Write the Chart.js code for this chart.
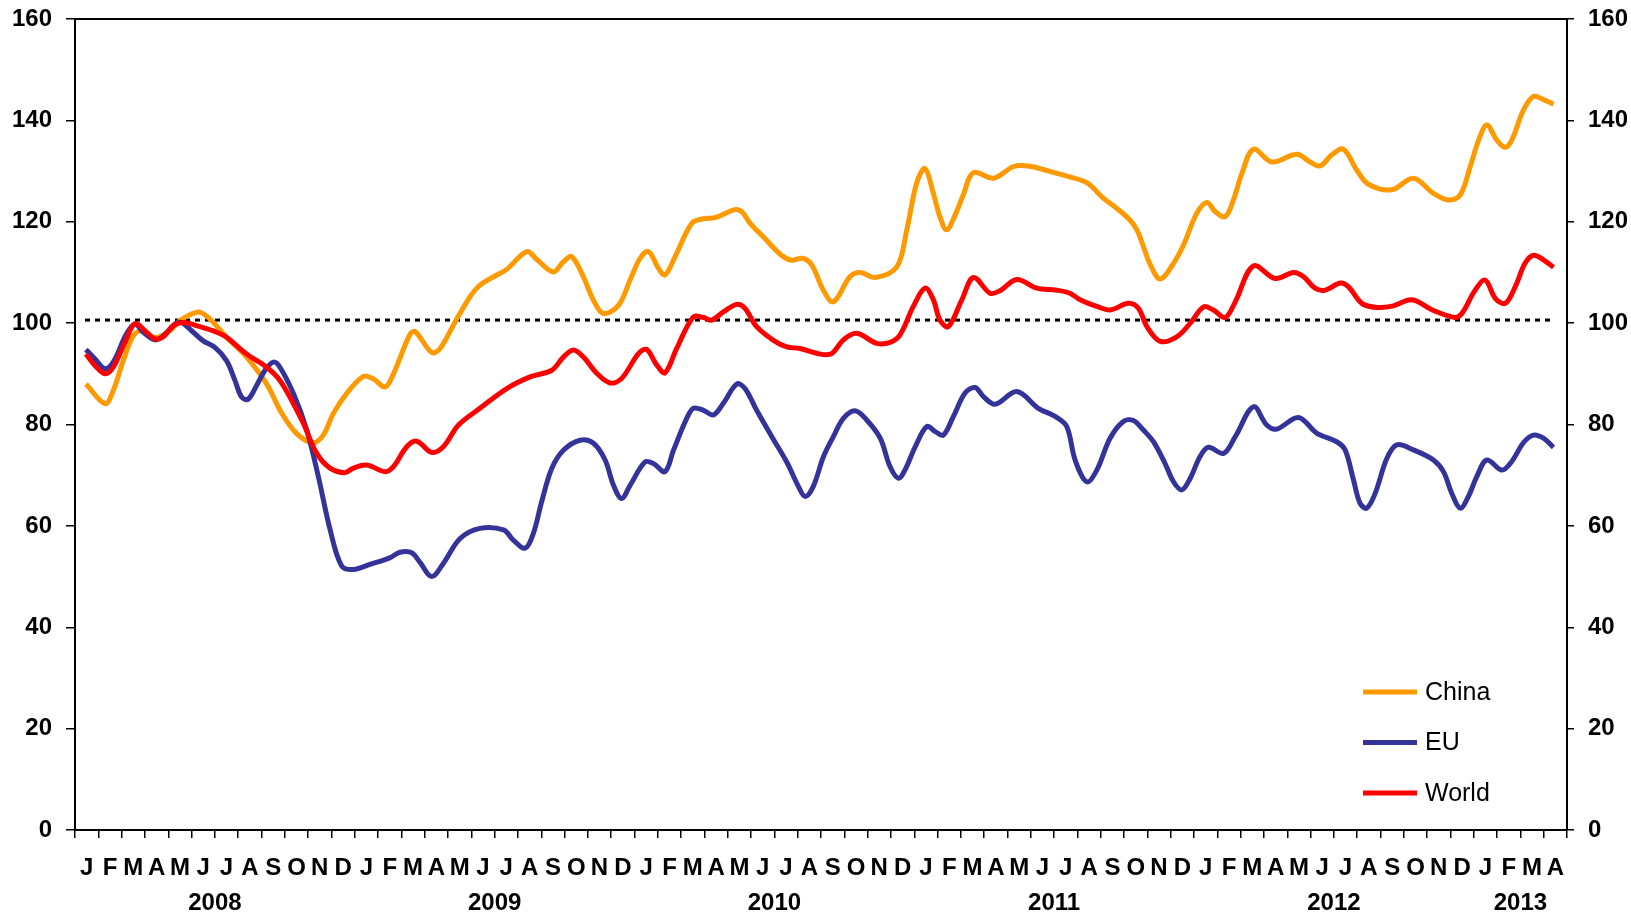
<!DOCTYPE html>
<html>
<head>
<meta charset="utf-8">
<script src="https://cdn.jsdelivr.net/npm/chart.js@4.4.1/dist/chart.umd.min.js"></script>
<style>
  html, body { margin: 0; padding: 0; background: #fff; }
  canvas { display: block; }
</style>
</head>
<body>
<canvas id="chart" width="1631" height="913"></canvas>
<script>
// time is in months since the start of Jan 2008
const monthLetters = ['J', 'F', 'M', 'A', 'M', 'J', 'J', 'A', 'S', 'O', 'N', 'D'];
const years = ['2008', '2009', '2010', '2011', '2012', '2013'];
const monthsPerYear = [12, 12, 12, 12, 12, 4];
const yTicks = [0, 20, 40, 60, 80, 100, 120, 140, 160];

const chinaT = [0.47, 1.29, 1.64, 2.07, 2.5, 2.86, 3.36, 4.07, 4.5, 5.29, 5.79, 6.5, 7.36, 8.22, 8.87, 9.51,
  10.2, 10.65, 11.08, 11.65, 12.37, 12.8, 13.3, 13.66, 14.37, 14.6, 15.3, 15.66, 16.23, 16.94, 17.37, 18.09,
  18.52, 19.38, 19.8, 20.52, 20.95, 21.31, 21.81, 22.24, 22.67, 23.31, 23.81, 24.24, 24.6, 25.03, 25.31, 25.74,
  26.46, 26.96, 27.46, 28.31, 28.6, 28.96, 29.53, 30.3, 30.75, 31.2, 31.6, 32.1, 32.53, 33.25, 33.68, 34.32,
  35.25, 35.68, 36.1, 36.46, 36.82, 37.1, 37.39, 37.75, 38.1, 38.54, 39.4, 40.26, 40.9, 41.7, 42.55, 43.4,
  44.12, 44.7, 45.26, 45.55, 45.83, 46.12, 46.55, 47.12, 47.55, 48.12, 48.55, 48.91, 49.34, 49.69, 50.05, 50.55,
  51.34, 52.41, 52.98, 53.41, 53.91, 54.41, 54.98, 55.48, 56.48, 57.41, 58.27, 58.92, 59.42, 59.85, 60.21, 60.56,
  60.99, 61.35, 61.63, 62.13, 62.56, 62.99, 63.42];
const china = [88.0, 84.1, 86.7, 92.6, 97.5, 98.5, 97.1, 98.5, 100.5, 102.2, 100.8, 97.2, 93.3, 88.0, 82.2, 78.2,
  76.4, 77.9, 82.2, 86.1, 89.5, 89.0, 87.4, 90.0, 97.8, 98.3, 94.2, 95.0, 99.6, 105.2, 107.5, 109.5,
  110.6, 114.1, 112.6, 110.1, 112.1, 113.1, 109.1, 104.5, 101.9, 103.5, 108.5, 112.8, 114.1, 110.8, 109.5, 113.1,
  119.7, 120.6, 120.8, 122.4, 122.0, 119.7, 117.0, 113.4, 112.4, 112.8, 111.5, 106.5, 104.2, 109.2, 110.0, 109.0,
  111.1, 118.4, 127.6, 130.5, 125.6, 121.0, 118.4, 121.3, 125.3, 129.7, 128.6, 130.9, 131.0, 130.1, 129.0, 127.7,
  124.6, 122.6, 120.3, 118.4, 115.1, 111.6, 108.7, 111.8, 115.4, 121.7, 123.8, 122.0, 121.0, 124.3, 129.5, 134.3,
  131.8, 133.3, 131.8, 131.0, 133.2, 134.3, 130.2, 127.4, 126.3, 128.6, 125.6, 124.3, 125.3, 130.9, 136.1, 139.1,
  136.1, 134.7, 136.1, 142.0, 144.7, 144.1, 143.2];

const euT = [0.47, 0.86, 1.29, 1.64, 2.2, 2.57, 2.93, 3.43, 3.79, 4.29, 4.58, 5.0, 5.5, 6.0, 6.5, 6.86,
  7.15, 7.43, 7.79, 8.15, 8.51, 8.79, 9.37, 9.94, 10.44, 10.94, 11.44, 11.94, 12.65, 13.5, 13.94, 14.44,
  14.8, 15.3, 15.8, 16.52, 17.37, 18.38, 18.8, 19.31, 19.66, 20.02, 20.45, 20.95, 21.67, 22.24, 22.74, 23.1,
  23.45, 23.81, 24.45, 24.81, 25.31, 25.67, 26.24, 26.53, 26.96, 27.39, 27.81, 28.39, 28.74, 29.24, 29.89, 30.53,
  31.03, 31.32, 31.67, 32.1, 32.53, 32.96, 33.46, 33.96, 34.54, 34.96, 35.32, 35.6, 36.04, 36.54, 36.9, 37.25,
  37.68, 38.18, 38.61, 38.97, 39.47, 40.4, 41.32, 42.04, 42.54, 42.9, 43.4, 43.83, 44.4, 44.97, 45.4, 45.83,
  46.26, 46.76, 47.12, 47.48, 47.84, 48.26, 48.62, 49.27, 49.77, 50.55, 51.12, 51.55, 52.48, 53.26, 54.12, 54.48,
  54.84, 55.12, 55.41, 55.77, 56.27, 56.7, 57.41, 58.27, 58.7, 59.06, 59.42, 59.77, 60.13, 60.56, 61.21, 61.63,
  62.13, 62.56, 62.99, 63.42];
const eu = [94.8, 92.9, 91.0, 92.3, 97.8, 99.8, 98.2, 96.7, 97.5, 99.8, 100.1, 98.5, 96.5, 95.2, 92.6, 88.7,
  85.4, 85.0, 87.7, 90.7, 92.3, 91.3, 86.1, 78.9, 69.7, 59.3, 52.1, 51.4, 52.4, 53.7, 54.8, 54.7,
  52.8, 50.0, 52.6, 57.5, 59.5, 59.2, 57.2, 55.6, 58.5, 64.8, 71.3, 74.9, 76.9, 76.3, 73.0, 68.0,
  65.4, 68.0, 72.6, 72.3, 70.7, 74.9, 81.2, 83.2, 82.8, 81.9, 84.2, 88.0, 87.1, 82.8, 77.6, 72.6,
  67.8, 65.8, 67.8, 73.6, 77.6, 81.2, 82.7, 80.9, 77.3, 71.7, 69.4, 71.0, 75.6, 79.6, 78.6, 77.9,
  81.6, 86.2, 87.3, 85.5, 84.0, 86.5, 83.2, 81.6, 79.6, 73.0, 68.7, 71.0, 77.3, 80.6, 80.8, 78.9,
  76.6, 72.3, 68.7, 67.1, 69.4, 73.7, 75.5, 74.3, 77.6, 83.5, 79.9, 79.1, 81.4, 78.3, 76.6, 75.0,
  69.1, 64.5, 63.5, 66.4, 73.3, 76.0, 75.0, 73.0, 70.7, 66.4, 63.5, 65.8, 69.7, 73.0, 71.0, 72.7,
  76.4, 77.9, 77.3, 75.5];

const worldT = [0.47, 0.86, 1.29, 1.64, 2.14, 2.57, 3.0, 3.43, 3.79, 4.22, 4.65, 5.36, 6.08, 6.5, 7.36, 8.22,
  8.79, 9.37, 9.8, 10.37, 10.94, 11.58, 11.94, 12.51, 13.3, 13.66, 14.23, 14.66, 15.3, 15.8, 16.45, 17.37,
  18.52, 19.52, 20.45, 20.95, 21.38, 21.81, 22.38, 22.95, 23.45, 24.17, 24.52, 24.96, 25.31, 25.81, 26.52, 26.96,
  27.31, 27.81, 28.39, 28.74, 29.24, 29.96, 30.53, 31.1, 31.96, 32.46, 32.96, 33.53, 34.39, 34.96, 35.39, 35.96,
  36.46, 36.82, 37.1, 37.46, 38.04, 38.54, 39.25, 39.68, 40.4, 41.26, 42.11, 42.68, 43.11, 43.83, 44.4, 45.19,
  45.62, 45.98, 46.55, 47.26, 47.84, 48.41, 48.83, 49.34, 49.77, 50.55, 51.48, 52.27, 52.69, 53.19, 53.62, 54.27,
  54.62, 55.2, 55.84, 56.55, 57.34, 58.27, 59.2, 59.49, 60.06, 60.49, 60.92, 61.35, 61.78, 62.2, 62.56, 62.99,
  63.42];
const world = [93.9, 91.6, 90.0, 91.3, 96.2, 99.9, 98.5, 96.9, 97.3, 99.5, 100.1, 99.3, 98.2, 97.2, 93.9, 91.3,
  88.7, 84.1, 80.2, 74.3, 71.4, 70.5, 71.4, 72.0, 70.7, 71.7, 75.6, 76.7, 74.5, 75.6, 79.9, 83.2,
  87.1, 89.4, 90.7, 93.3, 94.7, 93.3, 90.1, 88.2, 89.1, 94.0, 94.8, 91.7, 90.2, 95.0, 101.2, 101.1,
  100.6, 102.2, 103.7, 102.9, 99.3, 96.6, 95.3, 95.0, 93.9, 94.0, 96.7, 98.0, 96.0, 96.2, 97.7, 103.3,
  106.9, 104.6, 100.6, 99.3, 104.6, 109.0, 105.9, 106.4, 108.6, 106.9, 106.5, 105.9, 104.6, 103.3, 102.6, 103.9,
  102.9, 99.3, 96.4, 97.3, 100.0, 103.2, 102.6, 101.1, 104.2, 111.3, 108.8, 110.0, 109.2, 106.9, 106.5, 107.9,
  107.2, 103.9, 103.1, 103.4, 104.6, 102.5, 101.1, 101.9, 106.5, 108.5, 104.9, 103.9, 107.2, 111.8, 113.4, 112.5,
  111.0];

// dotted reference level and its time span
const refLevel = 100.6;
const refT = [0.43, 63.42];

const seriesNames = ['China', 'EU', 'World'];
const seriesColors = ['#FF9900', '#333399', '#FF0000'];

function pts(t, v) {
  return t.map((x, i) => ({ x, y: v[i] }));
}

// year labels sit in the middle of each year's run of months
const yearCenters = [];
let acc = 0;
monthsPerYear.forEach(n => { yearCenters.push(acc + n / 2); acc += n; });
const totalMonths = acc;

const tickFont = { family: 'Liberation Sans, Arial, sans-serif', size: 24, weight: 'bold' };

// legend drawn inside the plot, bottom right
const insideLegend = {
  id: 'insideLegend',
  afterDraw(chart) {
    const ctx = chart.ctx;
    ctx.save();
    ctx.font = '25px "Liberation Sans", Arial, sans-serif';
    ctx.textBaseline = 'middle';
    ctx.fillStyle = '#000';
    seriesNames.forEach((name, i) => {
      const y = 692 + i * 50.5;
      ctx.strokeStyle = seriesColors[i];
      ctx.lineWidth = 5;
      ctx.beginPath();
      ctx.moveTo(1363, y);
      ctx.lineTo(1417, y);
      ctx.stroke();
      ctx.fillText(name, 1425, y + 1);
    });
    ctx.restore();
  }
};

// fixed axis width, and no extra room reserved for the end labels
function fixWidth(w) {
  return axis => {
    axis.width = w;
    axis.paddingTop = 0;
    axis.paddingBottom = 0;
  };
}

const yAxisBase = {
  min: 0,
  max: 160,
  afterBuildTicks: axis => { axis.ticks = yTicks.map(v => ({ value: v })); },
  grid: { drawOnChartArea: false, color: '#000', lineWidth: 1.5 },
  border: { color: '#000', width: 2 },
  ticks: { font: tickFont, color: '#000', padding: 14 }
};

new Chart(document.getElementById('chart'), {
  type: 'line',
  data: {
    datasets: [
      {
        label: 'World', data: pts(worldT, world), borderColor: seriesColors[2],
        borderWidth: 5, pointRadius: 0, tension: 0.35, order: 1
      },
      {
        label: 'EU', data: pts(euT, eu), borderColor: seriesColors[1],
        borderWidth: 5, pointRadius: 0, tension: 0.35, order: 2
      },
      {
        label: 'China', data: pts(chinaT, china), borderColor: seriesColors[0],
        borderWidth: 5, pointRadius: 0, tension: 0.35, order: 3
      },
      {
        label: 'ref', data: refT.map(x => ({ x, y: refLevel })), borderColor: '#000',
        borderWidth: 3, borderDash: [5, 5], pointRadius: 0, order: 4
      }
    ]
  },
  options: {
    responsive: false,
    animation: false,
    layout: { padding: { top: 19, left: 0, right: 0, bottom: 0 } },
    plugins: {
      legend: { display: false },
      tooltip: { enabled: false }
    },
    scales: {
      x: {
        type: 'linear',
        position: 'bottom',
        weight: 0,
        min: 0,
        max: totalMonths,
        afterBuildTicks: axis => {
          const t = [];
          for (let i = 0; i <= totalMonths * 2; i++) t.push({ value: i / 2 });
          axis.ticks = t;
        },
        afterFit: axis => { axis.height = 52; },
        grid: {
          drawOnChartArea: false,
          tickLength: 8,
          lineWidth: 1.5,
          color: c => (c.tick && c.tick.value % 1 === 0) ? '#000' : 'rgba(0,0,0,0)'
        },
        border: { color: '#000', width: 2 },
        ticks: {
          autoSkip: false,
          maxRotation: 0,
          minRotation: 0,
          padding: 16,
          font: tickFont,
          color: '#000',
          callback: v => (v % 1 !== 0) ? monthLetters[Math.floor(v) % 12] : ''
        }
      },
      xYear: {
        type: 'linear',
        position: 'bottom',
        weight: 1,
        min: 0,
        max: totalMonths,
        afterBuildTicks: axis => { axis.ticks = yearCenters.map(v => ({ value: v })); },
        afterFit: axis => { axis.height = 31; },
        grid: { display: false },
        border: { display: false },
        ticks: {
          autoSkip: false,
          maxRotation: 0,
          minRotation: 0,
          padding: -1,
          font: tickFont,
          color: '#000',
          callback: v => years[yearCenters.indexOf(v)]
        }
      },
      xTop: {
        type: 'linear',
        position: 'top',
        min: 0,
        max: totalMonths,
        afterFit: axis => { axis.height = 0; },
        grid: { display: false },
        border: { color: '#000', width: 2 },
        ticks: { display: false }
      },
      y: Object.assign({}, yAxisBase, {
        position: 'left',
        afterFit: fixWidth(75),
        grid: Object.assign({}, yAxisBase.grid, { tickLength: 9 })
      }),
      y2: Object.assign({}, yAxisBase, {
        position: 'right',
        afterFit: fixWidth(64),
        grid: Object.assign({}, yAxisBase.grid, { tickLength: 7 })
      })
    }
  },
  plugins: [insideLegend]
});
</script>
</body>
</html>
